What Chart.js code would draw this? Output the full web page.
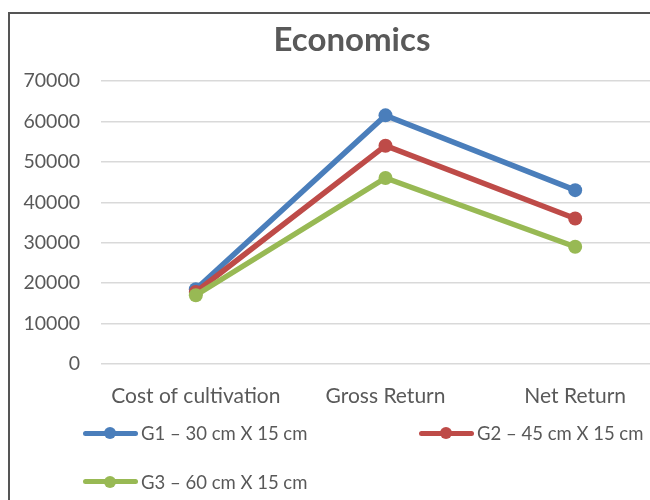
<!DOCTYPE html>
<html>
<head>
<meta charset="utf-8">
<title>Economics</title>
<script src="https://cdn.jsdelivr.net/npm/chart.js@4"></script>
<style>
  html, body { margin: 0; padding: 0; background: #fff; overflow: hidden; width: 650px; height: 500px; }
  #frame { position: absolute; left: 8px; top: 12px; width: 700px; height: 600px;
           border-left: 2px solid #555; border-top: 2px solid #555; }
  #wrap { position: absolute; left: 0; top: 0; width: 680px; height: 500px; }
  #title { position: absolute; top: 18px; left: 200px; width: 304px; text-align: center;
           font: bold 33px Lato, sans-serif; color: #595959; }
  .leg { position: absolute; height: 20px; display: flex; align-items: center;
         font: 18.5px Lato, sans-serif; color: #595959; white-space: nowrap; }
  .leg .icon { position: relative; width: 55px; height: 14px; margin-right: 3px; }
  .leg .icon .ln { position: absolute; left: 0; right: 0; top: 4.5px; height: 5px; border-radius: 3px; }
  .leg .icon .pt { position: absolute; left: 21px; top: 1px; width: 12px; height: 12px; border-radius: 50%; }
</style>
</head>
<body>
<div id="frame"></div>
<div id="wrap"><canvas id="chart" width="680" height="500"></canvas></div>
<div id="title">Economics</div>
<div id="legend"></div>
<script>
// Categories and values (Rs/ha) for the three spacing treatments
const categories = ['Cost of cultivation', 'Gross Return', 'Net Return'];
const seriesNames = ['G1 \u2013 30 cm X 15 cm', 'G2 \u2013 45 cm X 15 cm', 'G3 \u2013 60 cm X 15 cm'];
const g1Values = [18500, 61500, 43000];
const g2Values = [17800, 54000, 36000];
const g3Values = [17000, 46000, 29000];
const yTicks = [0, 10000, 20000, 30000, 40000, 50000, 60000, 70000];

const colors = ['#4A7EBB', '#BE4B48', '#98B954'];
const textColor = '#595959';

const seriesValues = [g1Values, g2Values, g3Values];

const datasets = seriesNames.map((name, i) => ({
  label: name,
  data: seriesValues[i],
  borderColor: colors[i],
  backgroundColor: colors[i],
  borderWidth: 5.5,
  pointRadius: 7,
  pointHoverRadius: 7,
  pointBorderWidth: 0,
  pointBackgroundColor: colors[i],
  tension: 0,
  order: seriesNames.length - i
}));

new Chart(document.getElementById('chart'), {
  type: 'line',
  data: { labels: categories, datasets },
  options: {
    responsive: false,
    animation: false,
    layout: { padding: { top: 81, right: 10, bottom: 0, left: 0 } },
    plugins: {
      legend: { display: false },
      title: { display: false },
      tooltip: { enabled: false }
    },
    scales: {
      x: {
        type: 'category',
        offset: true,
        grid: { display: false, drawTicks: false },
        border: { display: false },
        ticks: { color: textColor, font: { family: 'Lato', size: 21 }, padding: 20, maxRotation: 0 },
        afterFit: (scale) => { scale.height = 136; }
      },
      y: {
        min: yTicks[0],
        max: yTicks[yTicks.length - 1],
        grid: { color: '#D9D9D9', lineWidth: 1.5, drawTicks: false },
        border: { display: false },
        ticks: {
          color: textColor, font: { family: 'Lato', size: 19.5 }, padding: 21,
          callback: (value) => String(value)
        },
        afterBuildTicks: (scale) => { scale.ticks = yTicks.map(v => ({ value: v })); },
        afterFit: (scale) => { scale.width = 101; }
      }
    }
  }
});

// Legend laid out as two rows below the axis
const legendPos = [[83, 423], [419, 423], [83, 471.5]];
const legend = document.getElementById('legend');
seriesNames.forEach((name, i) => {
  const item = document.createElement('div');
  item.className = 'leg';
  item.style.left = legendPos[i][0] + 'px';
  item.style.top = legendPos[i][1] + 'px';
  item.innerHTML = '<div class="icon"><div class="ln" style="background:' + colors[i] +
    '"></div><div class="pt" style="background:' + colors[i] + '"></div></div><span>' + name + '</span>';
  legend.appendChild(item);
});
</script>
</body>
</html>
